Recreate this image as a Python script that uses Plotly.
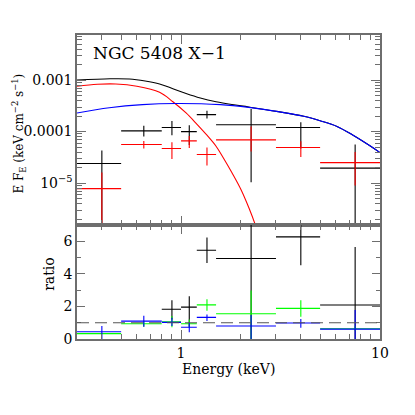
import plotly.graph_objects as go
from plotly.subplots import make_subplots

# ---- data ----
bin_lo = [0.3, 0.5, 0.8, 1.0, 1.2, 1.5, 3.0, 5.0]
bin_hi = [0.5, 0.8, 1.0, 1.2, 1.5, 3.0, 5.0, 10.0]
bin_ctr = [0.4, 0.65, 0.9, 1.1, 1.35, 2.25, 4.0, 7.5]

# E F_E data (value, upper, lower)
blk_val = [2.4e-5, 1.03e-4, 1.2e-4, 1.0e-4, 2.13e-4, 1.36e-4, 1.2e-4, 1.95e-5]
blk_up = [4.3e-5, 1.3e-4, 1.6e-4, 1.32e-4, 2.55e-4, 2.75e-4, 1.52e-4, 5.6e-5]
blk_lo = [1e-9, 0.8e-4, 0.85e-4, 5.5e-5, 1.8e-4, 1.04e-5, 4.7e-5, 1e-9]

red_val = [7.8e-6, 5.6e-5, 4.7e-5, 6.6e-5, 3.6e-5, 6.9e-5, 4.9e-5, 2.5e-5]
red_up = [1.6e-5, 6.6e-5, 6.2e-5, 8.2e-5, 4.9e-5, 1.25e-4, 6.5e-5, 4.0e-5]
red_lo = [1e-9, 4.7e-5, 2.95e-5, 4.8e-5, 2.2e-5, 4.1e-5, 3.2e-5, 9.0e-6]

blk_mod_e = [0.3, 0.44, 0.55, 0.66, 0.78, 0.91, 1.06, 1.25, 1.5, 1.8, 2.19, 3.02, 4.14, 5.0, 6.08, 7.36, 8.9, 10]
blk_mod_v = [1.0e-3, 1.06e-3, 1.05e-3, 9.6e-4, 8.4e-4, 6.8e-4, 5.5e-4, 4.5e-4, 3.8e-4, 3.35e-4, 3.0e-4,
             2.47e-4, 1.98e-4, 1.62e-4, 1.26e-4, 8.4e-5, 5.3e-5, 3.9e-5]
red_mod_e = [0.3, 0.38, 0.47, 0.6, 0.78, 0.91, 1.06, 1.2, 1.35, 1.5, 1.63, 1.8, 2.0, 2.2, 2.4, 2.6]
red_mod_v = [7.6e-4, 8.3e-4, 8.4e-4, 7.6e-4, 5.8e-4, 3.8e-4, 2.3e-4, 1.4e-4, 8.5e-5, 5.2e-5, 3.1e-5,
             1.6e-5, 7.5e-6, 3.2e-6, 1.3e-6, 5e-7]
blu_mod_e = [0.3, 0.436, 0.64, 0.94, 1.58, 2.19, 3.02, 4.14, 5.0, 6.08, 7.36, 8.9, 10]
blu_mod_v = [2.3e-4, 2.9e-4, 3.33e-4, 3.5e-4, 3.33e-4, 2.95e-4, 2.47e-4, 1.98e-4, 1.62e-4, 1.26e-4, 8.4e-5,
             5.3e-5, 3.9e-5]

# ratio panel
rb_idx = [2, 3, 4, 5, 6, 7]
rb_val = [1.83, 1.96, 5.46, 4.95, 6.28, 2.09]
rb_up = [2.38, 2.63, 6.24, 7.5, 7.5, 5.66]
rb_lo = [1.2, 0.75, 4.68, 0.0, 4.53, 0.0]

rg_val = [0.33, 0.94, 1.06, 0.94, 2.1, 1.55, 1.88, 0.63]
rg_up = [0.36, 1.12, 1.42, 1.2, 2.45, 2.98, 2.39, 0.8]
rg_lo = [0.30, 0.75, 0.72, 0.7, 1.74, 0.0, 1.37, 0.5]

rl_val = [0.45, 1.1, 1.02, 0.72, 1.33, 0.8, 0.98, 0.61]
rl_up = [0.8, 1.43, 1.3, 1.02, 1.51, 1.47, 1.23, 1.78]
rl_lo = [0.0, 0.75, 0.8, 0.41, 1.1, 0.0, 0.69, 0.0]

ref_level = 1.0

x_ticks = [1, 10]
x_minor = [0.3, 0.4, 0.5, 0.6, 0.7, 0.8, 0.9, 2, 3, 4, 5, 6, 7, 8, 9]
y_ticks = [1e-5, 1e-4, 1e-3]
y_ticktext = ["10<sup>−5</sup>", "0.0001", "0.001"]
y_minor = [m * 10 ** p for p in (-6, -5, -4, -3) for m in range(2, 10) if 1.5e-6 < m * 10 ** p < 7.5e-3]

FONT = "DejaVu Serif"
FRAME = "#6e6e6e"

fig = make_subplots(rows=2, cols=1, shared_xaxes=True, vertical_spacing=0,
                    row_heights=[0.6244, 0.3756])


def ebar(vals, ups, los, color, row, idxs=None):
    if idxs is None:
        idxs = list(range(len(vals)))
    x = [bin_ctr[i] for i in idxs]
    xp = [bin_hi[i] - bin_ctr[i] for i in idxs]
    xm = [bin_ctr[i] - bin_lo[i] for i in idxs]
    yp = [u - v for u, v in zip(ups, vals)]
    ym = [v - l for v, l in zip(vals, los)]
    fig.add_trace(go.Scatter(
        x=x, y=vals, mode="markers", marker=dict(size=1, color=color, opacity=0),
        error_x=dict(type="data", array=xp, arrayminus=xm, width=0, thickness=1.1, color=color),
        error_y=dict(type="data", array=yp, arrayminus=ym, width=0, thickness=1.1, color=color),
        showlegend=False, hoverinfo="skip"), row=row, col=1)


ebar(blk_val, blk_up, blk_lo, "black", 1)
ebar(red_val, red_up, red_lo, "red", 1)
fig.add_trace(go.Scatter(x=blk_mod_e, y=blk_mod_v, mode="lines", line=dict(color="black", width=1.1, shape="spline"),
                         showlegend=False), row=1, col=1)
fig.add_trace(go.Scatter(x=red_mod_e, y=red_mod_v, mode="lines", line=dict(color="red", width=1.1, shape="spline"),
                         showlegend=False), row=1, col=1)
fig.add_trace(go.Scatter(x=blu_mod_e, y=blu_mod_v, mode="lines", line=dict(color="blue", width=1.1, shape="spline"),
                         showlegend=False), row=1, col=1)

ebar(rb_val, rb_up, rb_lo, "black", 2, rb_idx)
ebar(rg_val, rg_up, rg_lo, "#00ff00", 2)
ebar(rl_val, rl_up, rl_lo, "blue", 2)

fig.add_shape(type="line", xref="x2 domain", yref="y2", x0=0, x1=1, y0=ref_level, y1=ref_level,
              line=dict(color="#555555", width=1.2, dash="12px,6px"))

axis_common = dict(showline=True, mirror="ticks", linecolor=FRAME, linewidth=1.5, ticks="inside",
                   tickcolor=FRAME, tickwidth=1, showgrid=False, zeroline=False,
                   tickfont=dict(family=FONT, size=14, color="black"))

fig.update_xaxes(type="log", range=[-0.5229, 1.0], tickvals=x_ticks, ticklen=9,
                 minor=dict(tickvals=x_minor, ticks="inside", ticklen=5, tickcolor=FRAME, showgrid=False),
                 **axis_common)
fig.update_xaxes(showticklabels=False, row=1, col=1)
fig.update_yaxes(type="log", range=[-5.81, -2.125], tickvals=y_ticks, ticktext=y_ticktext, ticklen=9,
                 minor=dict(tickvals=y_minor, ticks="inside", ticklen=5, tickcolor=FRAME, showgrid=False),
                 row=1, col=1, **axis_common)
fig.update_yaxes(range=[0, 7.02], tickvals=[0, 2, 4, 6], ticklen=8,
                 minor=dict(tickvals=[1, 3, 5, 7], ticks="inside", ticklen=4, tickcolor=FRAME, showgrid=False),
                 row=2, col=1, **axis_common)

fig.add_annotation(text="NGC 5408 X−1", xref="paper", yref="paper", x=0.047, y=0.94, xanchor="left",
                   yanchor="middle", showarrow=False, font=dict(family=FONT, size=17, color="black"))
fig.add_annotation(text="E F<sub>E</sub> (keV cm<sup>−2</sup> s<sup>−1</sup>)", xref="paper", yref="paper",
                   x=-0.19, y=0.677, xanchor="center", yanchor="middle", textangle=-90, showarrow=False,
                   font=dict(family=FONT, size=12, color="black"))
fig.add_annotation(text="ratio", xref="paper", yref="paper", x=-0.095, y=0.215, xanchor="center",
                   yanchor="middle", textangle=-90, showarrow=False, font=dict(family=FONT, size=14, color="black"))
fig.add_annotation(text="Energy (keV)", xref="paper", yref="paper", x=0.5, y=-0.098, xanchor="center",
                   yanchor="middle", showarrow=False, font=dict(family=FONT, size=14, color="black"))

# the page body adds an 8px offset; compensate so the plot frame lands at x 77-380, y 35-338
fig.update_layout(width=407, height=407, margin=dict(l=69, r=35, t=27, b=76),
                  paper_bgcolor="white", plot_bgcolor="white", showlegend=False)

fig.write_html("out.html")
